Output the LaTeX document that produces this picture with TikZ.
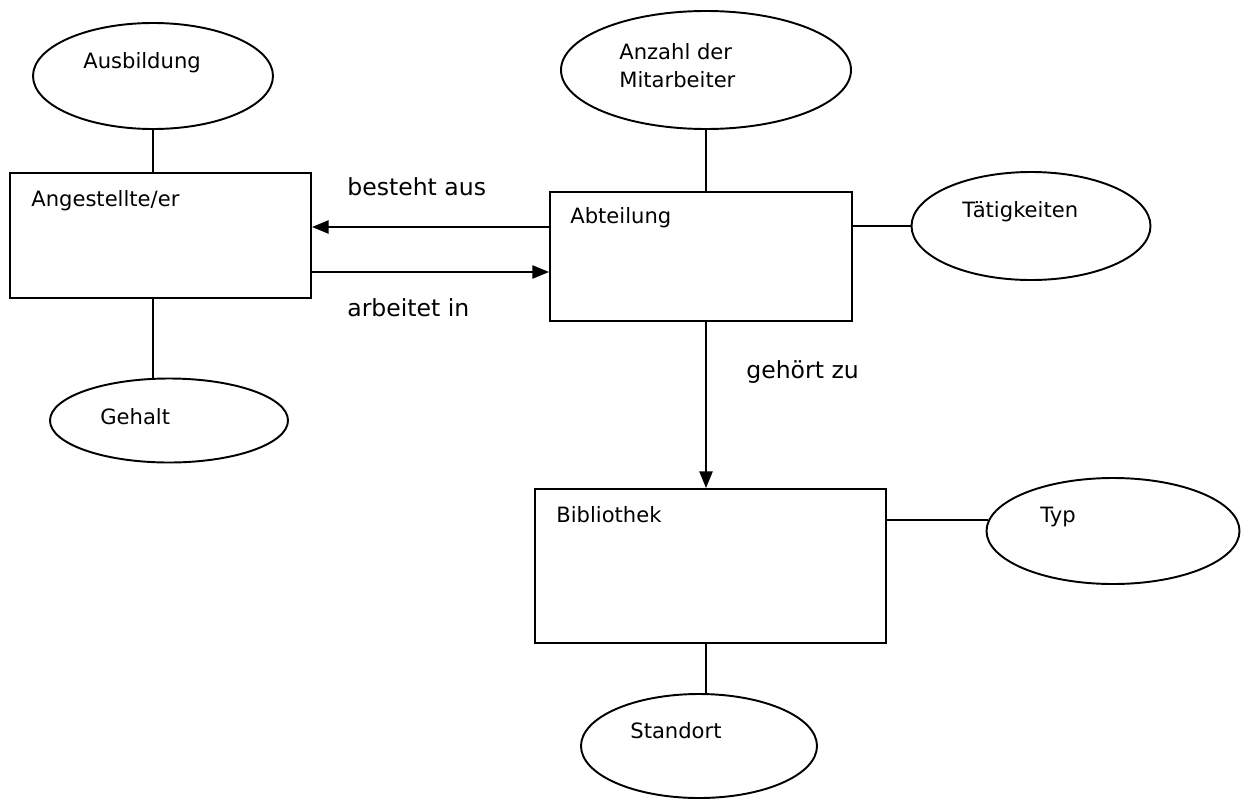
\documentclass[tikz,border=0pt]{standalone}
\usepackage{fontspec}
\setmainfont{DejaVu Sans}
\usetikzlibrary{shapes.geometric,arrows.meta}

\begin{document}
\begin{tikzpicture}[
    ent/.style={rectangle, draw, line width=1.1pt, inner sep=0pt},
    attr/.style={ellipse, draw, line width=1.1pt, inner sep=0pt},
    txt/.style={anchor=base west, inner sep=0pt, font=\fontsize{12}{15.9}\selectfont},
    lbl/.style={anchor=base west, inner sep=0pt, font=\fontsize{13.4}{16}\selectfont},
    line/.style={line width=1.1pt},
    arr/.style={-{Triangle[length=9.5pt, width=7.5pt]}, line width=1.1pt},
  ]
  \useasboundingbox (0,0) rectangle (25.06,-15.96);

  % === Angestellte/er (left) ===
  \node[attr, minimum width=4.8cm, minimum height=2.12cm] (ausb) at (3.06,-1.52) {};
  \node[txt] (tausb) at (1.66,-1.37) {Ausbildung};

  \node[ent, minimum width=6.02cm, minimum height=2.5cm] (ang) at (3.21,-4.71) {};
  \node[txt] (tang) at (0.62,-4.12) {Angestellte/er};

  \node[attr, minimum width=4.76cm, minimum height=1.68cm] (geh) at (3.38,-8.41) {};
  \node[txt] (tgeh) at (2.0,-8.48) {Gehalt};

  \draw[line] (ausb.south) -- (ausb.south |- ang.north);
  \draw[line] (ang.south -| ausb.south) -- (geh.north -| ausb.south);

  % === Abteilung (middle) ===
  \node[attr, minimum width=5.8cm, minimum height=2.36cm] (anz) at (14.12,-1.4) {};
  \node[anchor=north west, inner sep=0pt, align=left,
        font=\fontsize{12}{15.9}\selectfont] (tanz) at (12.38,-0.86) {Anzahl der\\Mitarbeiter};

  \node[ent, minimum width=6.04cm, minimum height=2.58cm] (abt) at (14.02,-5.13) {};
  \node[txt] (tabt) at (11.4,-4.46) {Abteilung};

  \node[attr, minimum width=4.78cm, minimum height=2.16cm] (taet) at (20.62,-4.52) {};
  \node[txt] (ttaet) at (19.24,-4.34) {Tätigkeiten};

  \draw[line] (anz.south) -- (anz.south |- abt.north);
  \draw[line] (abt.east |- taet.west) -- (taet.west);

  % relations
  \draw[arr] (abt.west |- 0,-4.54) -- (ang.east |- 0,-4.54);
  \draw[arr] (ang.east |- 0,-5.44) -- (abt.west |- 0,-5.44);
  \node[lbl] (lbest) at (6.94,-3.9) {besteht aus};
  \node[lbl] (larb) at (6.94,-6.32) {arbeitet in};

  % === Bibliothek (bottom) ===
  \node[ent, minimum width=7.02cm, minimum height=3.08cm] (bib) at (14.21,-11.32) {};
  \node[txt] (tbib) at (11.12,-10.44) {Bibliothek};

  \node[attr, minimum width=5.06cm, minimum height=2.12cm] (typ) at (22.26,-10.62) {};
  \node[txt] (ttyp) at (20.8,-10.44) {Typ};

  \node[attr, minimum width=4.72cm, minimum height=2.08cm] (stand) at (13.98,-14.92) {};
  \node[txt] (tstand) at (12.6,-14.76) {Standort};

  \draw[arr] (anz.south |- abt.south) -- (anz.south |- bib.north);
  \node[lbl] (lgeh) at (14.92,-7.56) {gehört zu};

  \draw[line] (bib.east |- typ.175) -- (typ.175);
  \draw[line] (anz.south |- bib.south) -- (anz.south |- stand.north);

\end{tikzpicture}
\end{document}
